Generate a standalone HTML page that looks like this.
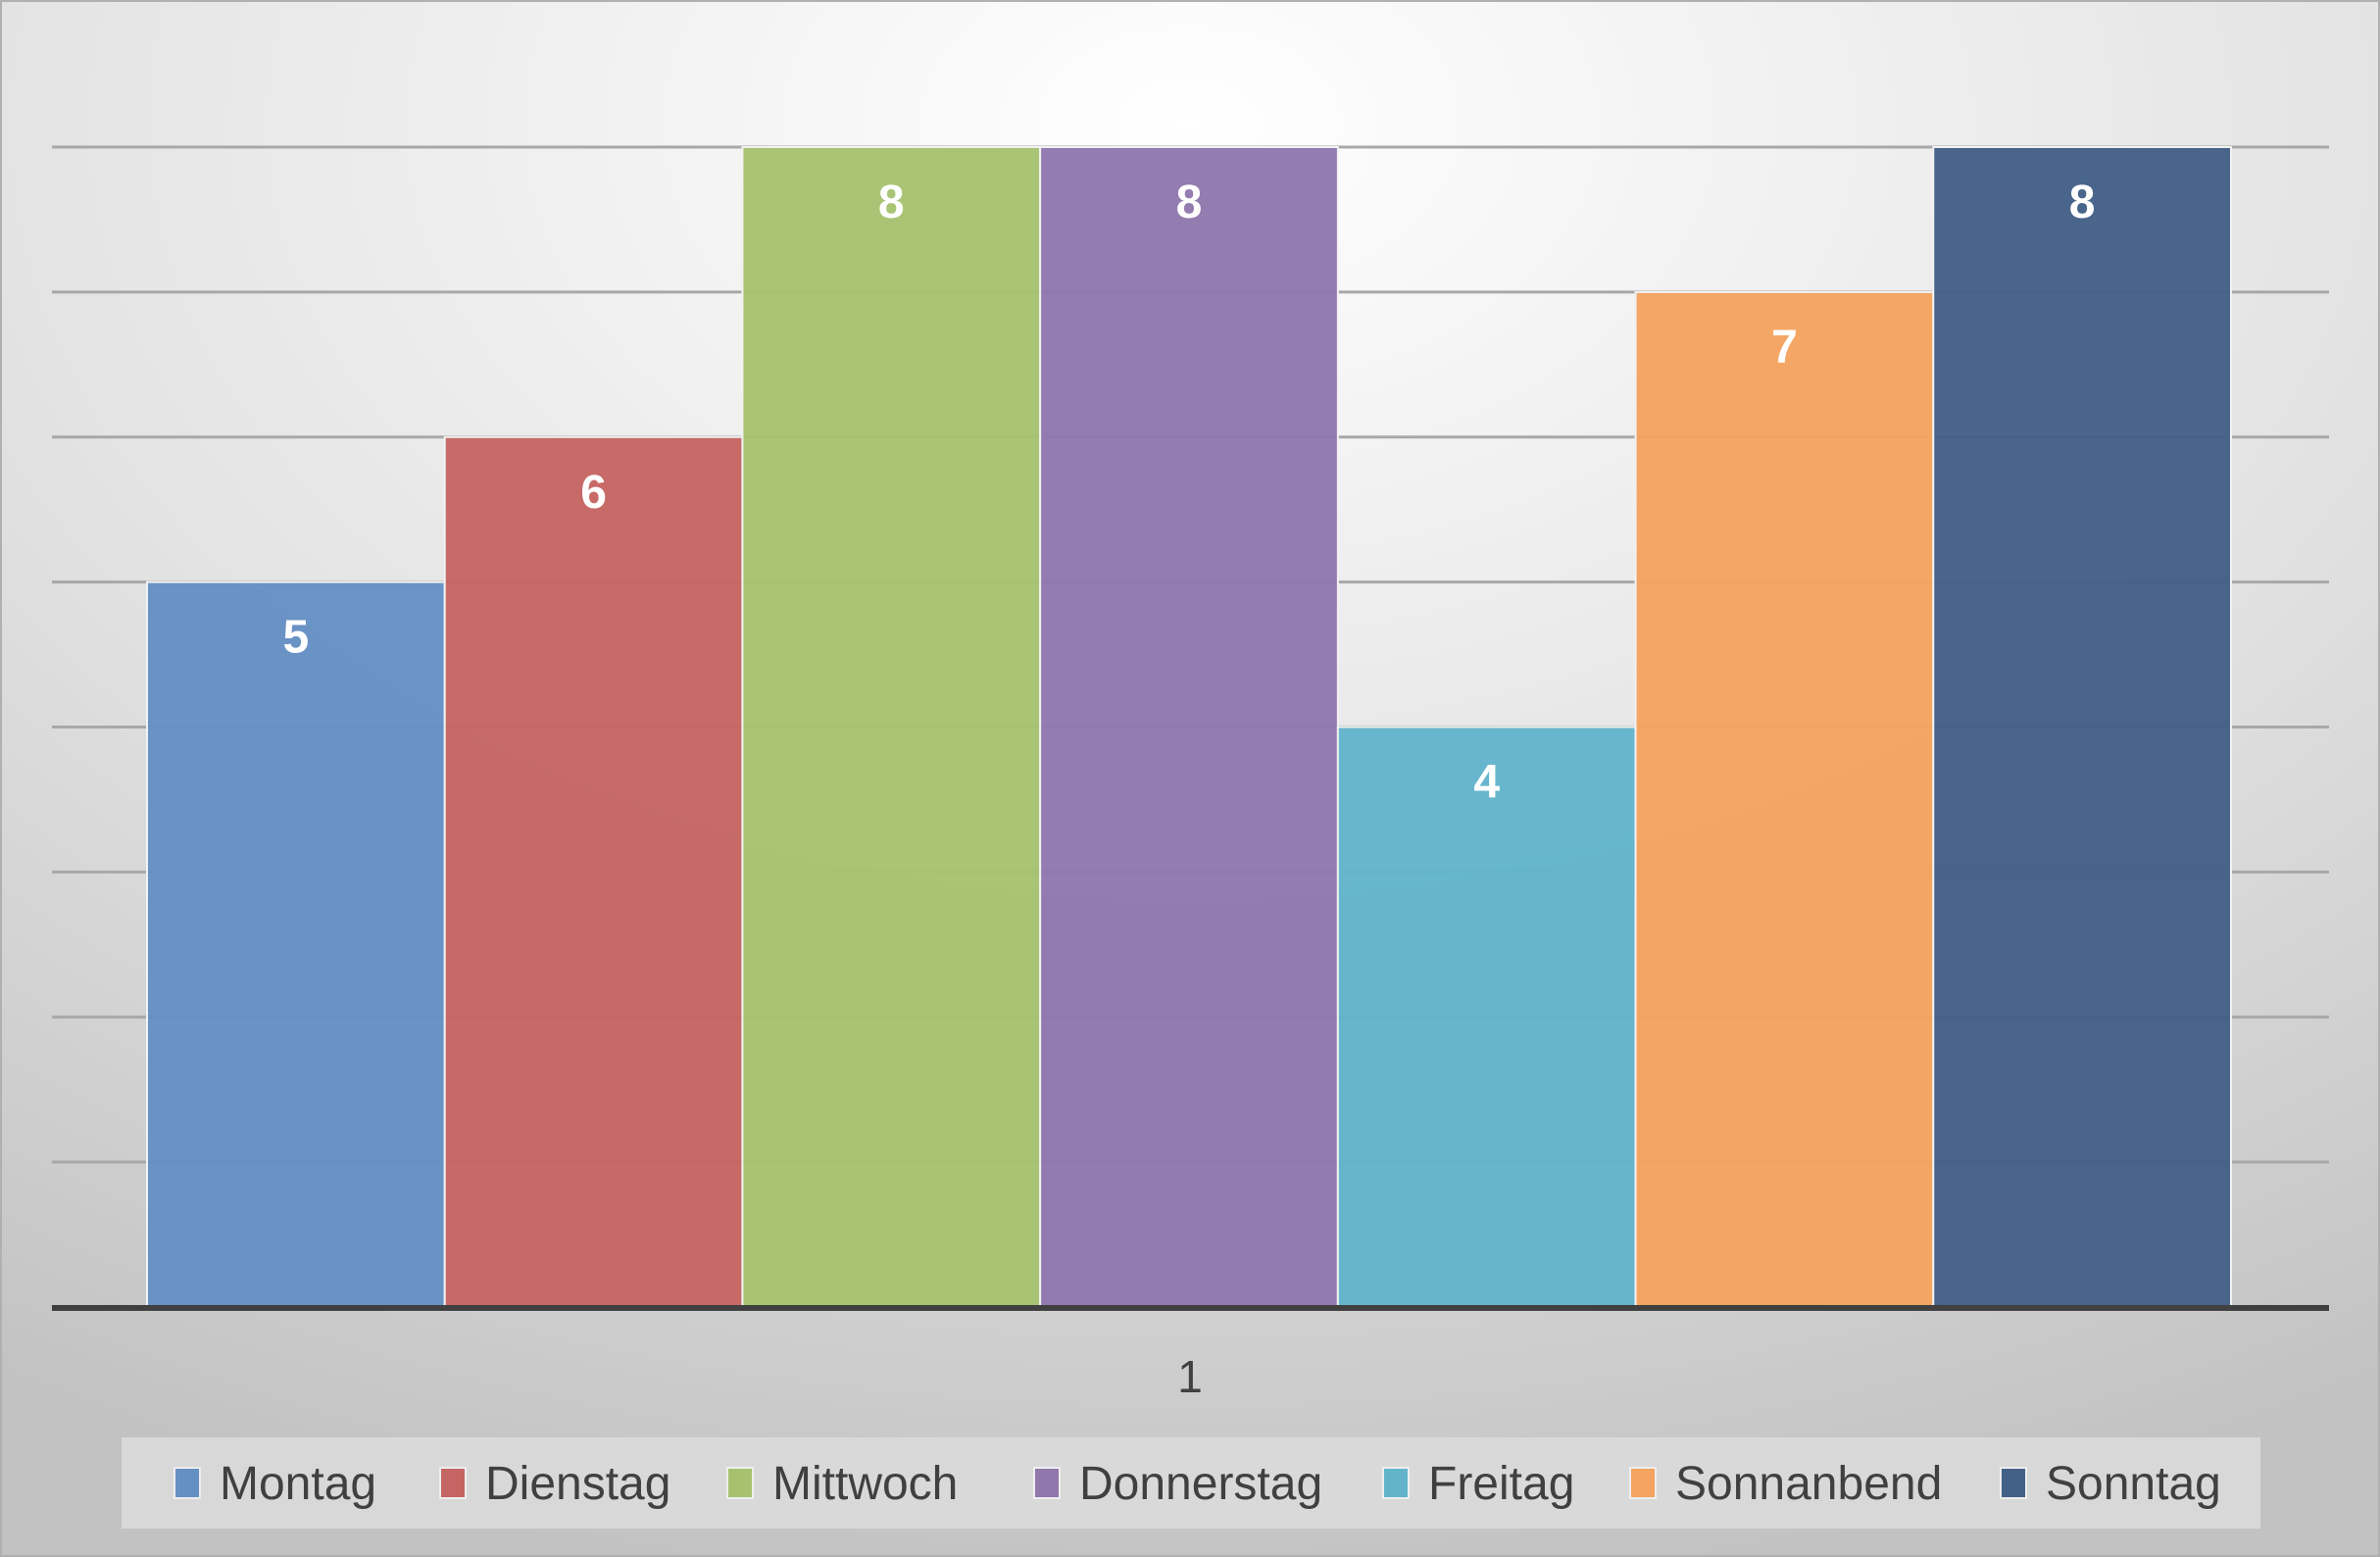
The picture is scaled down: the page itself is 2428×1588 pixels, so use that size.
<!DOCTYPE html>
<html><head><meta charset="utf-8"><style>
html,body{margin:0;padding:0;width:2428px;height:1588px;overflow:hidden}
svg{display:block;font-family:"Liberation Sans",sans-serif}
</style></head><body>
<svg id="chart" width="2428" height="1588" viewBox="0 0 2428 1588" xmlns="http://www.w3.org/2000/svg">
<defs>
<radialGradient id="bg" cx="0.5" cy="0.08" r="0.95">
<stop offset="0" stop-color="#ffffff"/><stop offset="0.55" stop-color="#e2e2e2"/><stop offset="1" stop-color="#c2c2c2"/>
</radialGradient>
</defs>
<rect x="0" y="0" width="2428" height="1588" fill="url(#bg)" stroke="#b0b0b0" stroke-width="4"/>
<g id="grid"></g>
<g id="bars"></g>
<rect x="53" y="1331" width="2323" height="6" fill="#404040"/>
<text x="1214" y="1420" font-size="46" fill="#404040" text-anchor="middle">1</text>
<rect x="124" y="1466" width="2182" height="93" fill="#dcdcdc" opacity="0.85"/>
<g id="legend"></g>
</svg>
<script>
const categories = ["Montag","Dienstag","Mittwoch","Donnerstag","Freitag","Sonnanbend","Sonntag"];
const values = [5,6,8,8,4,7,8];
const colors = ["#6590c4","#c56563","#a6c26f","#9078ad","#62b4cb","#f4a360","#436087"];
const yTicks = [1,2,3,4,5,6,7,8];
const legendX = [181,452,745,1058,1414,1666,2044];

const ns="http://www.w3.org/2000/svg";
const x0=150, x1=2276, yBase=1333, yTop=150, yMax=8;
const y = v => yBase - (yBase - yTop) * v / yMax;
const bw = (x1 - x0) / categories.length;
const xb = i => x0 + i * bw;

const grid=document.getElementById('grid');
yTicks.forEach(t=>{
  const l=document.createElementNS(ns,'line');
  
  
  l.setAttribute('x1',53);l.setAttribute('x2',2376);
  l.setAttribute('y1',y(t));l.setAttribute('y2',y(t));
  l.setAttribute('stroke','#a8a8a8');l.setAttribute('stroke-width','3');
  grid.appendChild(l);
});

const bars=document.getElementById('bars');
values.forEach((v,i)=>{
  const r=document.createElementNS(ns,'rect');
  
  
  r.setAttribute('x',xb(i));r.setAttribute('y',y(v));
  r.setAttribute('width',bw);r.setAttribute('height',yBase-y(v));
  r.setAttribute('fill',colors[i]);r.setAttribute('fill-opacity','0.97');
  r.setAttribute('stroke','#f2f2f2');r.setAttribute('stroke-width','2');
  bars.appendChild(r);
  const t=document.createElementNS(ns,'text');
  
  
  t.setAttribute('x',xb(i)+bw/2);t.setAttribute('y',y(v)+72);
  t.setAttribute('text-anchor','middle');t.setAttribute('font-size','48');
  t.setAttribute('font-weight','bold');t.setAttribute('fill','#ffffff');
  t.textContent=v;
  bars.appendChild(t);
});

const lg=document.getElementById('legend');
categories.forEach((c,i)=>{
  const s=document.createElementNS(ns,'rect');
  
  
  s.setAttribute('x',legendX[i]-3);s.setAttribute('y',1497);
  s.setAttribute('width',26);s.setAttribute('height',31);
  s.setAttribute('fill',colors[i]);s.setAttribute('stroke','#eeeeee');s.setAttribute('stroke-width','2');
  lg.appendChild(s);
  const t=document.createElementNS(ns,'text');
  
  
  t.setAttribute('x',legendX[i]+43);t.setAttribute('y',1529);
  t.setAttribute('font-size','48');t.setAttribute('fill','#404040');
  t.textContent=c;
  lg.appendChild(t);
});
</script>
</body></html>
